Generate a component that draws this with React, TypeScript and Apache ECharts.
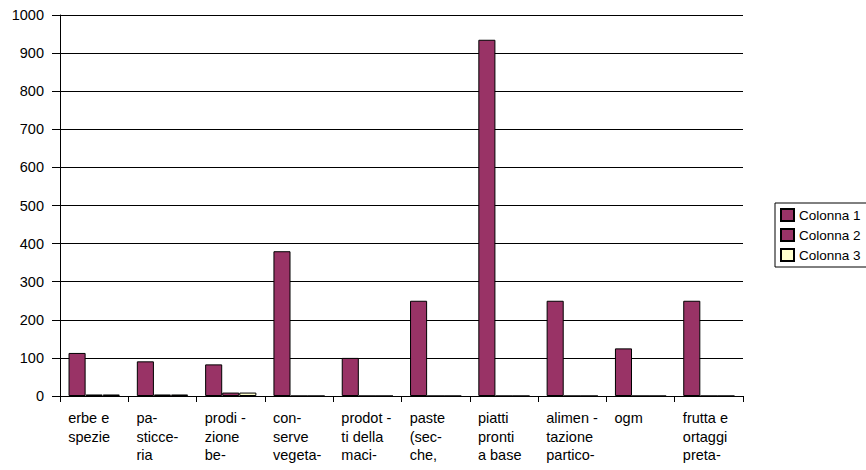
import React, { useEffect, useRef } from "react";
import * as echarts from "echarts";

const categories = [
  "erbe e\nspezie",
  "pa-\nsticce-\nria",
  "prodi -\nzione\nbe-",
  "con-\nserve\nvegeta-",
  "prodot -\nti della\nmaci-",
  "paste\n(sec-\nche,",
  "piatti\npronti\na base",
  "alimen -\ntazione\npartico-",
  "ogm",
  "frutta e\nortaggi\npreta-",
];
const colonna1 = [113, 91, 83, 380, 100, 250, 935, 250, 125, 250];
const colonna2 = [4, 4, 9, 0, 0, 0, 0, 0, 0, 0];
const colonna3 = [4, 4, 9, 0, 0, 0, 0, 0, 0, 0];
const seriesNames = ["Colonna 1", "Colonna 2", "Colonna 3"];
const seriesColors = ["#993366", "#993366", "#FFFFCC"];

const FONT = "'Liberation Sans', Arial, sans-serif";

export default function App() {
  const ref = useRef<HTMLDivElement>(null);
  useEffect(() => {
    if (!ref.current) return;
    const chart = echarts.init(ref.current, undefined, { renderer: "svg" });
    const data = [colonna1, colonna2, colonna3];
    chart.setOption({
      animation: false,
      backgroundColor: "#ffffff",
      textStyle: { fontFamily: FONT },
      grid: { left: 60, right: 123, top: 15, bottom: 74, containLabel: false },
      legend: {
        orient: "vertical",
        left: 775,
        top: 203,
        padding: [5, 6, 5, 5],
        itemWidth: 13,
        itemHeight: 12,
        itemGap: 6,
        borderColor: "#000",
        borderWidth: 1,
        icon: "rect",
        textStyle: { fontSize: 13.5, color: "#000", fontFamily: FONT },
        data: seriesNames,
      },
      xAxis: {
        type: "category",
        data: categories,
        boundaryGap: true,
        axisLine: { lineStyle: { color: "#000", width: 1 } },
        axisTick: { show: true, length: 6, lineStyle: { color: "#000" } },
        axisLabel: {
          interval: 0,
          margin: 13,
          color: "#000",
          fontSize: 14.5,
          fontFamily: FONT,
          lineHeight: 18.5,
          formatter: (v: string) =>
            v
              .split("\n")
              .map((l) => "{a|" + l + "}")
              .join("\n"),
          rich: {
            a: {
              width: 52,
              align: "left",
              fontSize: 14.5,
              lineHeight: 18.5,
              fontFamily: FONT,
              color: "#000",
            },
          },
        },
      },
      yAxis: {
        type: "value",
        min: 0,
        max: 1000,
        interval: 100,
        axisLine: { show: true, lineStyle: { color: "#000", width: 1 } },
        axisTick: { show: true, length: 8, lineStyle: { color: "#000" } },
        axisLabel: {
          margin: 16,
          color: "#000",
          fontSize: 14.5,
          fontFamily: FONT,
          formatter: (v: number) => String(v),
        },
        splitLine: { show: true, lineStyle: { color: "#000", width: 1 } },
      },
      series: seriesNames.map((name, i) => ({
        name,
        type: "bar",
        data: data[i],
        barGap: "0%",
        barCategoryGap: "25%",
        itemStyle: {
          color: seriesColors[i],
          borderColor: "#000",
          borderWidth: 1,
        },
      })),
    });
    return () => chart.dispose();
  }, []);
  return (
    <div
      ref={ref}
      style={{ position: "fixed", left: 0, top: 0, width: 866, height: 470 }}
    />
  );
}
